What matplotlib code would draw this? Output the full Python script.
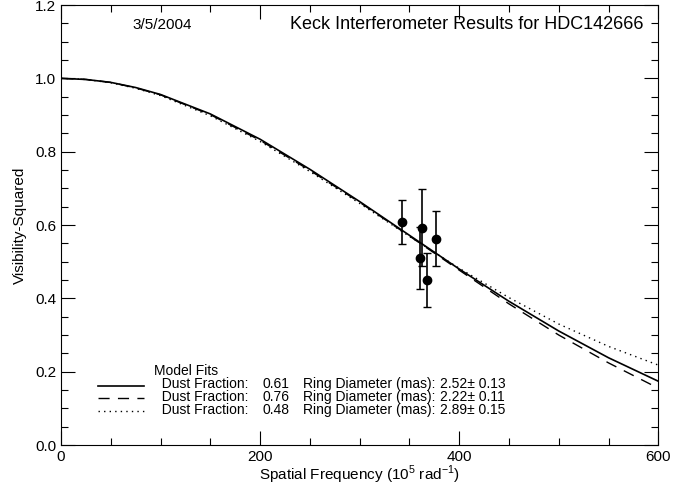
import numpy as np
import matplotlib
matplotlib.use("Agg")
import matplotlib.pyplot as plt
from matplotlib.ticker import MultipleLocator

plt.rcParams['font.family'] = ['Liberation Sans', 'DejaVu Sans']
plt.rcParams['mathtext.fontset'] = 'custom'
plt.rcParams['mathtext.rm'] = 'Liberation Sans'

# measured data points (spatial frequency, V^2, error)
freq = [343, 363, 361, 368, 377]
vis2 = [0.608, 0.592, 0.510, 0.451, 0.563]
vis2_err = [0.060, 0.105, 0.084, 0.074, 0.075]

# model curves
model_freq = [0, 25, 50, 75, 100, 150, 200, 250, 300, 350, 400, 450, 500, 550, 600]
fit_061 = [1.000, 0.997, 0.989, 0.975, 0.956, 0.903, 0.834, 0.752, 0.664, 0.572, 0.480, 0.392, 0.311, 0.238, 0.174]
fit_076 = [1.000, 0.997, 0.989, 0.974, 0.955, 0.901, 0.831, 0.749, 0.662, 0.570, 0.477, 0.385, 0.300, 0.224, 0.155]
fit_048 = [1.000, 0.997, 0.988, 0.973, 0.953, 0.898, 0.828, 0.746, 0.659, 0.569, 0.482, 0.402, 0.330, 0.269, 0.218]

dust = ["0.61", "0.76", "0.48"]
diam = ["2.52", "2.22", "2.89"]
diam_err = ["0.13", "0.11", "0.15"]

fig = plt.figure(figsize=(6.85, 4.87), dpi=100)
ax = fig.add_axes([0.089, 0.0862, 0.872, 0.9035])

ax.plot(model_freq, fit_061, color='black', lw=1.2, ls='-')
ax.plot(model_freq, fit_076, color='black', lw=1.0, ls=(0, (8, 6)))
ax.plot(model_freq, fit_048, color='black', lw=1.0, ls=(0, (1, 3)))

ax.errorbar(freq, vis2, yerr=vis2_err, fmt='o', color='black', ms=6,
            elinewidth=1.2, capsize=3, capthick=1.0, ecolor='black')

ax.set_xlim(0, 600)
ax.set_ylim(0, 1.2)
ax.xaxis.set_major_locator(MultipleLocator(200))
ax.xaxis.set_minor_locator(MultipleLocator(50))
ax.yaxis.set_major_locator(MultipleLocator(0.2))
ax.yaxis.set_minor_locator(MultipleLocator(0.05))
ax.yaxis.set_major_formatter(plt.FormatStrFormatter('%.1f'))
ax.tick_params(which='both', direction='in', top=True, right=True, labelsize=11)
ax.tick_params(which='major', length=10, width=0.8)
ax.tick_params(which='minor', length=5, width=0.8)
for s in ax.spines.values():
    s.set_linewidth(0.8)

ax.set_xlabel(r"Spatial Frequency (10$^5$ rad$^{-1}$)", fontsize=11, labelpad=0)
ax.set_ylabel("Visibility-Squared", fontsize=11, labelpad=6)

ax.text(0.17, 0.955, "3/5/2004", transform=ax.transAxes, fontsize=11, ha='center', va='center')
ax.text(0.975, 0.955, "Keck Interferometer Results for HDC142666", transform=ax.transAxes,
        fontsize=13, ha='right', va='center')

# legend drawn IDL style: line samples plus text columns
styles = [dict(ls='-', lw=1.2), dict(ls=(0, (8, 6)), lw=1.0), dict(ls=(0, (1, 3)), lw=1.0)]
line_y = [0.134, 0.106, 0.077]
for i in range(3):
    ax.plot([0.062, 0.139], [line_y[i], line_y[i]], transform=ax.transAxes, color='black', **styles[i])

legend_fs = 10
ls_ = 0.9
col1 = "Model Fits\n" + "\n".join(["  Dust Fraction:"] * 3)
col2 = "\n" + "\n".join(dust)
col3 = "\n" + "\n".join(["Ring Diameter (mas):"] * 3)
col4 = "\n" + "\n".join(d + "\u00b1 " + e for d, e in zip(diam, diam_err))
for xx, txt in [(0.156, col1), (0.338, col2), (0.405, col3), (0.635, col4)]:
    ax.text(xx, 0.124, txt, transform=ax.transAxes, fontsize=legend_fs, va='center',
            ha='left', linespacing=ls_)

fig.savefig("out.png", dpi=100)
